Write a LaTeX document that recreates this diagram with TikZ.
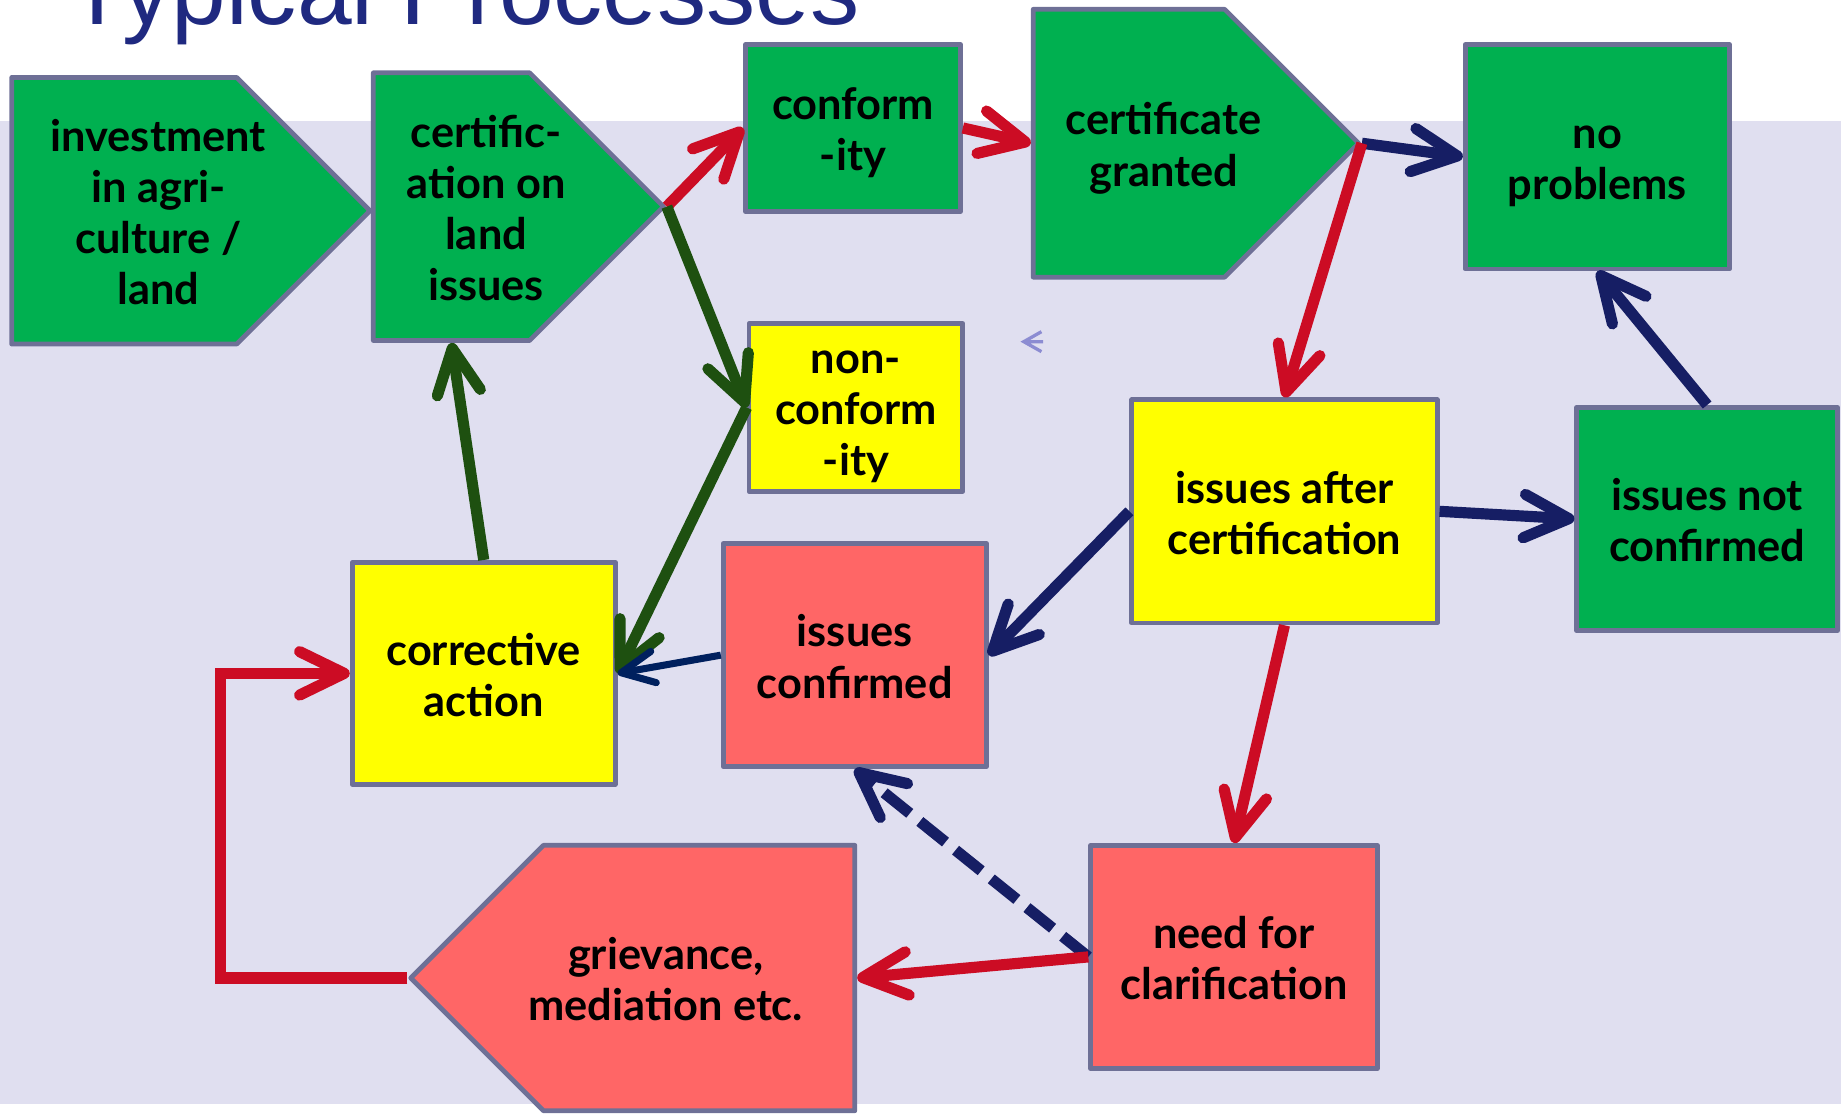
\documentclass[tikz,border=0pt]{standalone}
\usepackage{fontspec}
\newfontfamily\boxfont{Lato}
\newfontfamily\titlefont{Liberation Sans}
\usetikzlibrary{arrows.meta,shapes.symbols}

\definecolor{boxgreen}{HTML}{00B050}
\definecolor{boxyellow}{HTML}{FFFF00}
\definecolor{boxred}{HTML}{FF6666}
\definecolor{boxline}{HTML}{6E7096}
\definecolor{band}{HTML}{E0DFF0}
\definecolor{titleblue}{HTML}{1F2980}
\definecolor{arrred}{HTML}{CC0C24}
\definecolor{arrnavy}{HTML}{161E64}
\definecolor{arrgreen}{HTML}{1E5010}
\definecolor{arrblue}{HTML}{00205E}
\definecolor{stray}{HTML}{8C8CD2}

% lines of a box, spaced like the slide's text frames
\newcommand{\boxlines}[1]{\begin{tabular}{@{}c@{}}\vrule height 12.1pt width 0pt\relax #1\end{tabular}}

\begin{document}
\begin{tikzpicture}[x=0.01cm, y=-0.01cm,
  txt/.style={font=\boxfont\bfseries\fontsize{10.5}{12.4}\selectfont, inner sep=0pt},
  box/.style={txt, draw=boxline, line width=0.04cm, line join=round},
  sig/.style={box, shape=signal, signal pointer angle=90},
  flow/.style={line width=0.095cm, -{Straight Barb[length=0.38cm, width=0.37cm, round]}},
  thinflow/.style={line width=0.06cm, -{Straight Barb[length=0.28cm, width=0.27cm, round]}}
]
\useasboundingbox (0,0) rectangle (1568,948);
\clip (0,0) rectangle (1568,948);
\fill[band] (0,103) rectangle (1568,940);

\node[anchor=base west, inner sep=0pt, text=titleblue,
  font=\titlefont\fontsize{23.8}{28}\selectfont] (title) at (57,21) {Typical Processes};

% top row
\node[sig, fill=boxgreen, minimum width=3.05cm, minimum height=2.27cm,
  label={[txt, xshift=0.29cm]center:{\boxlines{investment\\in agri-\\culture /\\land}}}] (inv) at (105.75,179.5) {};
\node[sig, fill=boxgreen, minimum width=2.47cm, minimum height=2.28cm,
  label={[txt, xshift=0.295cm]center:{\boxlines{certific-\\ation on\\land\\issues}}}] (cert) at (384.5,176) {};
\node[box, fill=boxgreen, minimum width=1.83cm, minimum height=1.42cm] (conf) at (726.5,109) {\boxlines{conform\\-ity}};
\node[sig, fill=boxgreen, minimum width=2.77cm, minimum height=2.28cm,
  label={[txt, xshift=0.295cm]center:{\boxlines{certificate\\granted}}}] (gran) at (961.5,122) {};
\node[box, fill=boxgreen, minimum width=2.25cm, minimum height=1.91cm] (noprob) at (1360.5,133.5) {\boxlines{no\\problems}};

% middle
\node[box, fill=boxyellow, minimum width=1.82cm, minimum height=1.40cm] (nonc) at (729,347) {\boxlines{non-\\conform\\-ity}};
\node[box, fill=boxyellow, minimum width=2.60cm, minimum height=1.90cm] (after) at (1094,435.5) {\boxlines{issues after\\certification}};
\node[box, fill=boxgreen, minimum width=2.22cm, minimum height=1.90cm] (notconf) at (1454,442) {\boxlines{issues not\\confirmed}};
\node[box, fill=boxred, minimum width=2.24cm, minimum height=1.90cm] (iconf) at (728,558) {\boxlines{issues\\confirmed}};
\node[box, fill=boxyellow, minimum width=2.24cm, minimum height=1.89cm] (corr) at (412,573.5) {\boxlines{corrective\\action}};

% bottom
\node[box, fill=boxred, minimum width=2.44cm, minimum height=1.90cm] (need) at (1051,815) {\boxlines{need for\\clarification}};
\node[sig, signal to=west, fill=boxred, minimum width=3.78cm, minimum height=2.26cm,
  label={[txt, xshift=-0.285cm]center:{\boxlines{grievance,\\mediation etc.}}}] (griev) at (595.5,833) {};

\coordinate (bend) at (188,833);

\draw[flow, arrred] (cert.east) -- (conf.west);
\draw[flow, arrred] (conf.east) -- (gran.west);
\draw[flow, arrnavy] (gran.east) -- (noprob.west);
\draw[flow, arrred] (gran.east) -- (after.north);
\draw[flow, arrgreen] (cert.east) -- (nonc.west);
\draw[flow, arrgreen] (nonc.west) -- (corr.east);
\draw[flow, arrgreen] (corr.north) -- (cert.south);
\draw[flow, arrnavy] (notconf.north) -- (noprob.south);
\draw[flow, arrnavy] (after.east) -- (notconf.west);
\draw[flow, arrnavy] (after.west) -- (iconf.east);
\draw[thinflow, arrblue] (iconf.west) -- (corr.east);
\draw[flow, arrred] (after.south) -- (need.north);
\draw[flow, arrnavy, dash pattern=on 0.28cm off 0.11cm] (need.west) -- (iconf.south);
\draw[flow, arrred] (need.west) -- (griev.east);
\draw[flow, arrred, line join=miter] (griev.west) -- (bend) |- (corr.west);

\draw[stray, line width=0.028cm] (887,282.5) -- (872,291) -- (887,299.5) (872,291) -- (888.5,291);
\end{tikzpicture}
\end{document}
